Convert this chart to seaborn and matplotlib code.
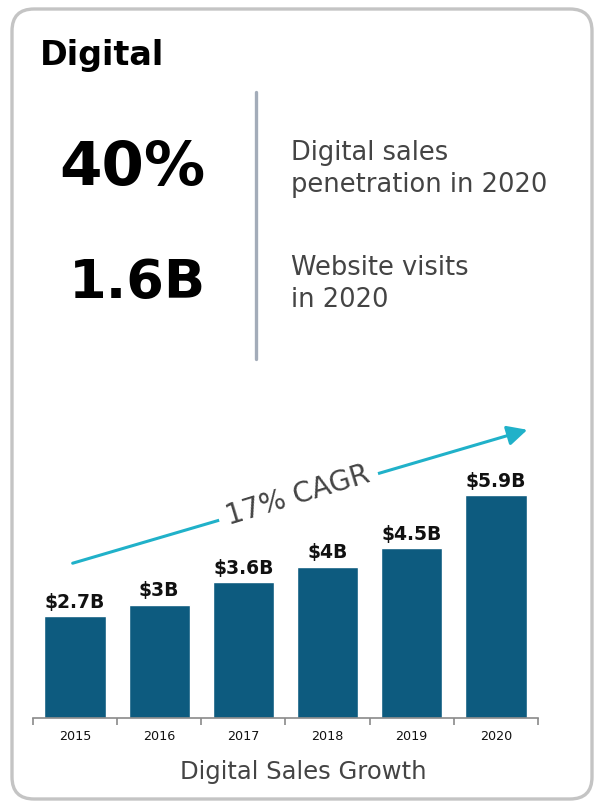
import numpy as np
import pandas as pd
import matplotlib
matplotlib.use("Agg")
import matplotlib.pyplot as plt
from matplotlib.patches import FancyBboxPatch
import seaborn as sns

years = ["2015", "2016", "2017", "2018", "2019", "2020"]
sales = [2.7, 3.0, 3.6, 4.0, 4.5, 5.9]
bar_labels = ["$2.7B", "$3B", "$3.6B", "$4B", "$4.5B", "$5.9B"]

sns.set_theme(style="white")
plt.rcParams['font.family'] = ['DejaVu Sans']

W, H = 606, 812
fig = plt.figure(figsize=(W / 100, H / 100), dpi=100)
fig.patch.set_facecolor("white")

def px(x, y):
    return x / W, 1 - y / H

# rounded border
box = FancyBboxPatch((0.12, 0.12), 5.80, 7.90,
                     boxstyle="round,pad=0,rounding_size=0.22",
                     transform=fig.dpi_scale_trans, facecolor="none",
                     edgecolor="#c4c4c4", linewidth=2.4, zorder=-1)
fig.patches.append(box)

# header texts
fig.text(*px(40, 56), "Digital", fontsize=24, fontweight="bold", color="black",
         ha="left", va="center")
fig.text(*px(206, 168), "40%", fontsize=44, fontweight="bold", color="black",
         ha="right", va="center")
fig.text(*px(206, 283), "1.6B", fontsize=39, fontweight="bold", color="black",
         ha="right", va="center")
fig.text(*px(291, 169), "Digital sales\npenetration in 2020", fontsize=18.5,
         color="#444444", ha="left", va="center", linespacing=1.3)
fig.text(*px(291, 284), "Website visits\nin 2020", fontsize=18.5,
         color="#444444", ha="left", va="center", linespacing=1.3)
fig.add_artist(plt.Line2D([256 / W, 256 / W], [1 - 93 / H, 1 - 360 / H],
                          color="#a3acb9", linewidth=2.4, transform=fig.transFigure))

# bar chart
ax = fig.add_axes([33 / W, 1 - 719 / H, 505 / W, 302 / H])
df = pd.DataFrame({"year": years, "sales": sales})
sns.barplot(data=df, x="year", y="sales", color="#0d5b7f", saturation=1,
            width=0.73, ax=ax)
ax.set_xlim(-0.5, 5.5)
ax.set_ylim(0, 8)
ax.bar_label(ax.containers[0], labels=bar_labels, padding=4, fontsize=13.5,
             fontweight="bold", color="#111111")
for s in ["top", "right", "left"]:
    ax.spines[s].set_visible(False)
ax.spines["bottom"].set_color("#8a8a8a")
ax.spines["bottom"].set_linewidth(1.2)
ax.set_yticks([])
ax.set_xlabel("")
ax.set_ylabel("")
ax.set_xticks(np.arange(-0.5, 6, 1), minor=True)
ax.tick_params(axis="x", which="major", length=0, labelsize=9.2, labelcolor="#111111", pad=8)
ax.tick_params(axis="x", which="minor", length=5, color="#8a8a8a", width=1.2,
               direction="out", bottom=True)
ax.patch.set_alpha(0)

fig.text(*px(303, 772), "Digital Sales Growth", fontsize=17.5, color="#444444",
         ha="center", va="center")

# CAGR arrow
fig.add_artist(matplotlib.patches.FancyArrowPatch(
    px(70, 565), px(530, 430), transform=fig.transFigure,
    arrowstyle="-|>,head_length=8,head_width=4", mutation_scale=1.5,
    color="#20b1c9", linewidth=2.2))
fig.text(*px(298, 496), "17% CAGR", fontsize=20, color="#444444",
         ha="center", va="center", rotation=17, rotation_mode="anchor",
         bbox=dict(facecolor="white", edgecolor="none", pad=6))

fig.savefig("out.png", dpi=100)
